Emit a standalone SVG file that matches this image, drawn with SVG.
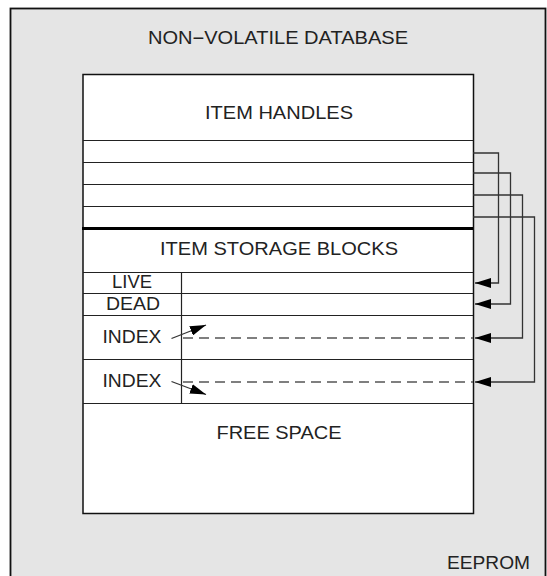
<svg xmlns="http://www.w3.org/2000/svg" width="547" height="576" viewBox="0 0 547 576">
<style>
text{font-family:"Liberation Sans",Arial,sans-serif;font-size:18px;fill:#222;}
.box{fill:#fff;stroke:#111;stroke-width:1.5;}
.row{stroke:#222;stroke-width:1.2;fill:none;}
.conn{stroke:#333;stroke-width:1.3;fill:none;}
.dash{stroke:#555;stroke-width:1.5;fill:none;stroke-dasharray:10 6;}
</style>
<defs>
<marker id="ah" markerWidth="16" markerHeight="10" refX="16" refY="5" orient="auto" markerUnits="userSpaceOnUse">
<path d="M0,0 L16,5 L0,10 Z" fill="#000"/>
</marker>
<marker id="sa" markerWidth="16" markerHeight="10" refX="16" refY="5" orient="auto" markerUnits="userSpaceOnUse">
<path d="M0,0 L16,5 L0,10 Z" fill="#000"/>
</marker>
</defs>
<g id="eeprom">
<rect x="10.5" y="8.5" width="535" height="580" fill="#e5e5e5" stroke="#111" stroke-width="1.8"/>
<text x="278" y="43.5" text-anchor="middle" textLength="260" lengthAdjust="spacingAndGlyphs">NON−VOLATILE DATABASE</text>
<text x="447" y="568.5" textLength="83" lengthAdjust="spacingAndGlyphs">EEPROM</text>
</g>
<g id="database">
<rect class="box" x="83" y="74.5" width="390.5" height="439"/>
</g>
<g id="item-handles">
<text x="279" y="118.5" text-anchor="middle" textLength="148" lengthAdjust="spacingAndGlyphs">ITEM HANDLES</text>
<line class="row" x1="83" y1="140.5" x2="473" y2="140.5"/>
<line class="row" x1="83" y1="162.5" x2="473" y2="162.5"/>
<line class="row" x1="83" y1="184.5" x2="473" y2="184.5"/>
<line class="row" x1="83" y1="206.5" x2="473" y2="206.5"/>
<line x1="82" y1="228.5" x2="473" y2="228.5" stroke="#000" stroke-width="3"/>
</g>
<g id="item-storage-blocks">
<text x="279" y="255" text-anchor="middle" textLength="238" lengthAdjust="spacingAndGlyphs">ITEM STORAGE BLOCKS</text>
<line class="row" x1="83" y1="272.5" x2="473" y2="272.5"/>
<line class="row" x1="83" y1="293.5" x2="473" y2="293.5"/>
<line class="row" x1="83" y1="315.5" x2="473" y2="315.5"/>
<line class="row" x1="83" y1="359.5" x2="473" y2="359.5"/>
<line class="row" x1="83" y1="403.5" x2="473" y2="403.5"/>
<line class="row" x1="181.5" y1="272.5" x2="181.5" y2="403.5"/>
</g>
<g id="live">
<text x="132" y="288" text-anchor="middle" textLength="40" lengthAdjust="spacingAndGlyphs">LIVE</text>
</g>
<g id="dead">
<text x="133" y="309.5" text-anchor="middle" textLength="54" lengthAdjust="spacingAndGlyphs">DEAD</text>
</g>
<g id="index-1">
<text x="132" y="343" text-anchor="middle" textLength="59" lengthAdjust="spacingAndGlyphs">INDEX</text>
</g>
<g id="index-2">
<text x="132" y="387" text-anchor="middle" textLength="59" lengthAdjust="spacingAndGlyphs">INDEX</text>
</g>
<g id="free-space">
<text x="279" y="438.5" text-anchor="middle" textLength="125" lengthAdjust="spacingAndGlyphs">FREE SPACE</text>
</g>
<g id="connectors">
<polyline class="conn" points="473,153 498.5,153 498.5,283 475,283" marker-end="url(#ah)"/>
<polyline class="conn" points="473,173 510.5,173 510.5,304 475,304" marker-end="url(#ah)"/>
<polyline class="conn" points="473,195 522.5,195 522.5,338 475,338" marker-end="url(#ah)"/>
<polyline class="conn" points="473,217 534.5,217 534.5,382 475,382" marker-end="url(#ah)"/>
<line class="dash" x1="183" y1="338" x2="473" y2="338"/>
<line class="dash" x1="183" y1="382" x2="473" y2="382"/>
<line class="conn" x1="171.5" y1="338.5" x2="206" y2="325" marker-end="url(#sa)"/>
<line class="conn" x1="171.5" y1="381.5" x2="206" y2="394.5" marker-end="url(#sa)"/>
</g>
</svg>
